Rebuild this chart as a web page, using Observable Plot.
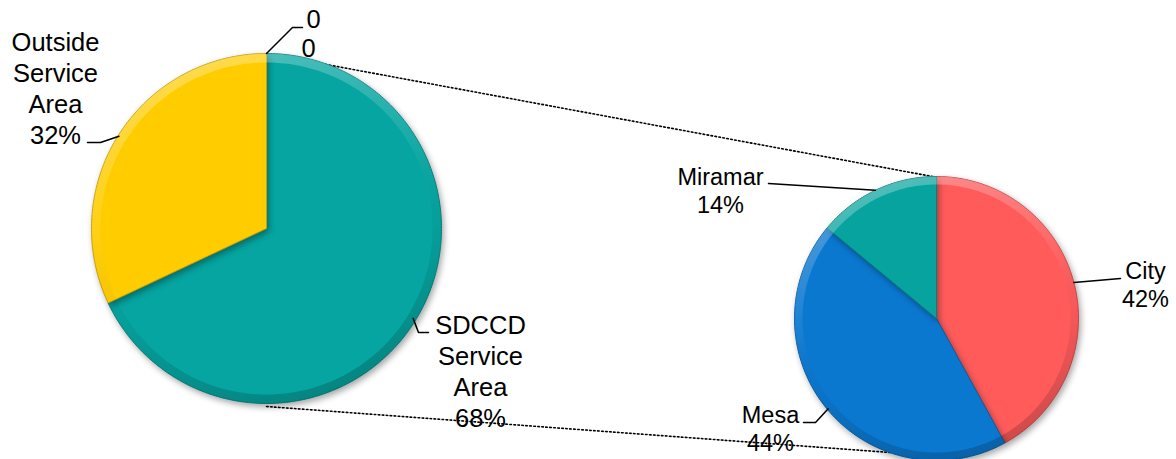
<!DOCTYPE html>
<html><head><meta charset="utf-8">
<script src="https://cdn.jsdelivr.net/npm/d3@7"></script>
<script src="https://cdn.jsdelivr.net/npm/@observablehq/plot@0.6"></script>
<style>
html,body{margin:0;padding:0;background:#fff;}
#chart svg{display:block;}
g[aria-description="slices"] path{filter: drop-shadow(2px 3px 3px rgba(0,0,0,0.35));}
</style></head><body><div id="chart"></div>
<script>
// ---- data ----
const primaryLabels = ["SDCCD Service Area", "Outside Service Area"];
const primaryValues = [68, 32];
const secondaryLabels = ["City", "Mesa", "Miramar"];
const secondaryValues = [42, 44, 14];
const zeroLabels = ["0", "0"];

// ---- styles / layout ----
const primaryColors = ["#06A5A1", "#FFCC00"];
const secondaryColors = ["#FF5B5B", "#0B78D0", "#07A39E"];
const W = 1176, H = 459;
const pies = {
  primary: {cx: 266, cy: 228, r: 175},
  secondary: {cx: 936, cy: 318, r: 142}
};
function pt(p, angleDeg, r) {
  const a = angleDeg * Math.PI / 180;
  return {x: p.cx + r * Math.sin(a), y: p.cy - r * Math.cos(a)};
}
function arcAngles(values) {
  const total = d3.sum(values);
  let s = 0;
  return values.map(v => { const a = {start: s, end: s + v / total * 360}; s = a.end; return a; });
}
function slicePoints(pie, labels, values, colors, id) {
  const out = [];
  arcAngles(values).forEach((a, i) => {
    const key = id + i;
    const pts = [pt(pie, 0, 0)];
    const n = Math.max(2, Math.ceil(a.end - a.start));
    for (let k = 0; k <= n; k++) pts.push(pt(pie, a.start + (a.end - a.start) * k / n, pie.r));
    pts.push(pt(pie, 0, 0));
    pts.forEach(p => out.push({...p, key, color: colors[i], label: labels[i]}));
  });
  return out;
}
function bevelPoints(pie, values, id, width) {
  const out = [];
  arcAngles(values).forEach((a, i) => {
    const key = id + "b" + i;
    const n = Math.max(2, Math.ceil(a.end - a.start));
    const pts = [];
    for (let k = 0; k <= n; k++) pts.push(pt(pie, a.start + (a.end - a.start) * k / n, pie.r));
    for (let k = n; k >= 0; k--) pts.push(pt(pie, a.start + (a.end - a.start) * k / n, pie.r - width));
    pts.forEach(p => out.push({...p, key, grad: "url(#bev-" + id + ")"}));
  });
  return out;
}

const slices = [
  ...slicePoints(pies.primary, primaryLabels, primaryValues, primaryColors, "p"),
  ...slicePoints(pies.secondary, secondaryLabels, secondaryValues, secondaryColors, "s")
];
const bevels = [
  ...bevelPoints(pies.primary, primaryValues, "p", 9),
  ...bevelPoints(pies.secondary, secondaryValues, "s", 8)
];

// connectors between pies
const connectors = [
  {id: "top", ...pt(pies.primary, 0, 175)},
  {id: "top", ...pt(pies.secondary, 12.5, 139)},
  {id: "bot", ...pt(pies.primary, 180, 178)},
  {id: "bot", ...pt(pies.secondary, 191, 138)}
];

// labels
const pct = v => v + "%";
const leftLabels = [
  {text: primaryLabels[1].split(" ").join("\n") + "\n" + pct(primaryValues[1]), x: 55, y: 87},
  {text: primaryLabels[0].split(" ").join("\n") + "\n" + pct(primaryValues[0]), x: 480, y: 370},
  {text: zeroLabels[0], x: 313, y: 18},
  {text: zeroLabels[1], x: 308, y: 47}
];
const rightLabels = [
  {text: secondaryLabels[0] + "\n" + pct(secondaryValues[0]), x: 1145, y: 284},
  {text: secondaryLabels[1] + "\n" + pct(secondaryValues[1]), x: 770, y: 428},
  {text: secondaryLabels[2] + "\n" + pct(secondaryValues[2]), x: 720, y: 190}
];
const leaders = [
  {id: "z", ...pt(pies.primary, 0, 175)}, {id: "z", x: 292, y: 27}, {id: "z", x: 302, y: 27},
  {id: "o", ...pt(pies.primary, 302, 174)}, {id: "o", x: 100, y: 142}, {id: "o", x: 87, y: 142},
  {id: "d", ...pt(pies.primary, 121.5, 172)}, {id: "d", x: 418, y: 332}, {id: "d", x: 428, y: 332},
  {id: "m", ...pt(pies.secondary, 334.5, 142)}, {id: "m", x: 768, y: 183},
  {id: "c", ...pt(pies.secondary, 75.3, 142)}, {id: "c", x: 1120, y: 278},
  {id: "e", ...pt(pies.secondary, 230.2, 141)}, {id: "e", x: 815, y: 422}, {id: "e", x: 803, y: 422}
];

function defsMark() {
  const defs = d3.create("svg:defs");
  for (const [id, p] of Object.entries({p: pies.primary, s: pies.secondary})) {
    const g = defs.append("linearGradient").attr("id", "bev-" + id)
      .attr("gradientUnits", "userSpaceOnUse")
      .attr("x1", p.cx - p.r * 0.3).attr("y1", p.cy - p.r).attr("x2", p.cx + p.r * 0.3).attr("y2", p.cy + p.r);
    [[0, "#fff", 0.3], [0.4, "#fff", 0.06], [0.6, "#000", 0.03], [1, "#000", 0.2]].forEach(([o, c, a]) =>
      g.append("stop").attr("offset", o).attr("stop-color", c).attr("stop-opacity", a));
  }
  return defs.node();
}

const font = "'Liberation Sans', Arial, sans-serif";
const chart = Plot.plot({
  width: W, height: H,
  margin: 0,
  x: {domain: [0, W], range: [0, W], axis: null},
  y: {domain: [0, H], range: [0, H], axis: null},
  style: {background: "#fff", fontFamily: font},
  marks: [
    defsMark,
    Plot.line(connectors, {x: "x", y: "y", z: "id", stroke: "#000", strokeWidth: 1.6, strokeDasharray: "1.6,2.4"}),
    Plot.line(slices, {x: "x", y: "y", z: "key", fill: "color", stroke: d => d3.color(d.color).darker(0.7).formatHex(),
      strokeWidth: 1, strokeLinejoin: "round", curve: "linear", ariaDescription: "slices"}),
    Plot.line(bevels, {x: "x", y: "y", z: "key", fill: "grad", stroke: "none"}),
    Plot.line(leaders, {x: "x", y: "y", z: "id", stroke: "#000", strokeWidth: 1.5}),
    Plot.text(leftLabels, {x: "x", y: "y", text: "text", fontSize: 25.5, lineHeight: 1.22, fill: "#000", textAnchor: "middle"}),
    Plot.text(rightLabels, {x: "x", y: "y", text: "text", fontSize: 23.5, lineHeight: 1.19, fill: "#000", textAnchor: "middle"})
  ]
});
document.getElementById("chart").append(chart);
</script></body></html>
